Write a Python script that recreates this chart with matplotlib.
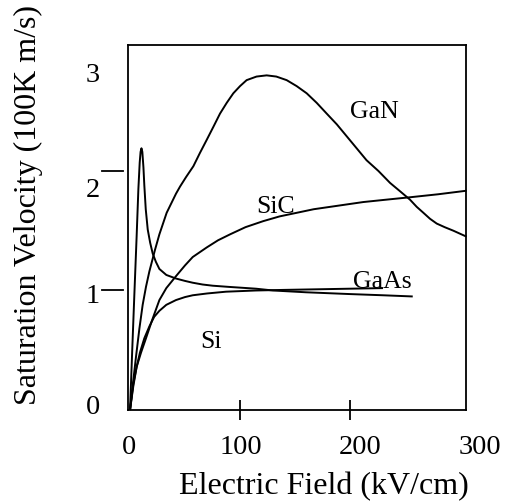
import matplotlib
matplotlib.use("Agg")
import matplotlib.pyplot as plt
import matplotlib.transforms as mtransforms

plt.rcParams['font.family'] = ['Liberation Serif', 'DejaVu Serif']

# ---------------- data ----------------
gan_x = [0, 3, 5.5, 8.5, 11.5, 14.5, 17.6, 22.7, 26.7, 33.3, 41.8, 45.5, 51, 57.6,
         63.5, 69.7, 75.8, 81.8, 87.9, 93.9, 100, 106, 115, 124.2, 133, 142.4,
         151.5, 160.6, 169.7, 178.8, 188, 197, 206, 215, 225.8, 236.4, 245.5,
         254.5, 260.6, 266.7, 272.7, 278.8, 286, 294, 300, 306]
gan_y = [0, 0.25, 0.45, 0.68, 0.88, 1.03, 1.16, 1.34, 1.47, 1.65, 1.81, 1.87, 1.95,
         2.04, 2.15, 2.26, 2.37, 2.48, 2.57, 2.65, 2.71, 2.76, 2.79, 2.80, 2.79,
         2.76, 2.71, 2.65, 2.57, 2.48, 2.39, 2.29, 2.19, 2.09, 2.0, 1.90, 1.83,
         1.76, 1.70, 1.65, 1.60, 1.56, 1.53, 1.50, 1.475, 1.45]

sic_x = [0, 3, 6, 10, 14.5, 20, 26.7, 33, 41.8, 50, 57, 69.7, 80, 91, 105, 121,
         136, 151.5, 167, 182, 197, 212, 233, 254.5, 280, 306]
sic_y = [0, 0.22, 0.36, 0.48, 0.60, 0.75, 0.92, 1.02, 1.12, 1.21, 1.28, 1.36, 1.42,
         1.47, 1.53, 1.58, 1.62, 1.65, 1.68, 1.70, 1.72, 1.74, 1.76, 1.78, 1.805,
         1.835]

gaas_x = [0, 2, 4, 6, 7.6, 8.8, 9.6, 10.4, 11.2, 12.2, 13, 14.3, 16.1, 18.3, 20.6,
          23.5, 26.7, 33, 41.8, 50, 57, 66, 75.2, 90, 114.5, 130, 160, 200, 230, 257]
gaas_y = [0, 0.5, 0.98, 1.45, 1.85, 2.07, 2.16, 2.19, 2.16, 2.03, 1.88, 1.68, 1.51,
          1.40, 1.31, 1.24, 1.18, 1.13, 1.10, 1.08, 1.065, 1.05, 1.04, 1.03, 1.015,
          1.0, 0.985, 0.97, 0.96, 0.95]

si_x = [0, 3, 6, 9, 13, 17.6, 22, 26.7, 33, 41.8, 50, 57, 70, 87.3, 114.5, 140,
        170, 200, 230]
si_y = [0, 0.2, 0.36, 0.48, 0.60, 0.70, 0.78, 0.83, 0.88, 0.92, 0.945, 0.96, 0.975,
        0.99, 1.0, 1.005, 1.01, 1.015, 1.02]

series_names = ["GaN", "SiC", "GaAs", "Si"]
x_tick_values = [0, 100, 200, 300]
x_tick_labels = ["0", "100", "200", "300"]
y_tick_values = [0, 1, 2, 3]
y_tick_labels = ["0", "1", "2", "3"]
x_label = "Electric Field (kV/cm)"
y_label = "Saturation Velocity (100K m/s)"

# ---------------- figure ----------------
fig = plt.figure(figsize=(5.07, 5.04), dpi=100)
ax = fig.add_axes([0.2525, 0.1865, 0.6667, 0.7242])
ax.set_xlim(-1.82, 305.45)
ax.set_ylim(0, 3.054)

lw = 1.4
for xs, ys in [(gan_x, gan_y), (sic_x, sic_y), (gaas_x, gaas_y), (si_x, si_y)]:
    ax.plot(xs, ys, color='black', lw=lw, solid_joinstyle='round',
            solid_capstyle='butt', clip_on=False)

for s in ax.spines.values():
    s.set_linewidth(1.3)

# x ticks: marks only at 100 and 200, crossing the axis
ax.set_xticks([v for v in x_tick_values if v not in (0, 300)])
ax.set_xticklabels([])
ax.tick_params(axis='x', direction='inout', length=15, width=1.3)
ax.set_yticks([])

# x tick labels (drawn as text, slightly drifting as in the reference)
x_label_pos = [-1, 101, 209, 318]
xtr = mtransforms.blended_transform_factory(ax.transData, ax.transAxes)
for pos, lab in zip(x_label_pos, x_tick_labels):
    ax.text(pos, -0.104, lab, transform=xtr, ha='center', va='center',
            fontsize=20.5, clip_on=False)

# y tick marks detached from the axis at 1 and 2
ytr = mtransforms.blended_transform_factory(ax.transAxes, ax.transData)
for v in y_tick_values[1:3]:
    ax.plot([-0.0769, -0.0148], [v, v], transform=ytr, color='black', lw=1.3,
            clip_on=False)

# y tick labels
y_label_pos = [0.025, 0.946, 1.84, 2.795]
for pos, lab in zip(y_label_pos, y_tick_labels):
    ax.text(-0.083, pos, lab, transform=ytr, ha='right', va='center',
            fontsize=20.5, clip_on=False)

# curve labels
label_pos = {"GaN": (222, 2.49), "SiC": (132.5, 1.70), "GaAs": (229.5, 1.07), "Si": (74, 0.57)}
for name in series_names:
    px, py = label_pos[name]
    ax.text(px, py, name, ha='center', va='center', fontsize=18.5)

fig.text(0.638, 0.034, x_label, ha='center', va='center', fontsize=23)
fig.text(0.0552, 0.593, y_label, ha='center', va='center', rotation=90, fontsize=23)

fig.savefig("out.png", dpi=100)
